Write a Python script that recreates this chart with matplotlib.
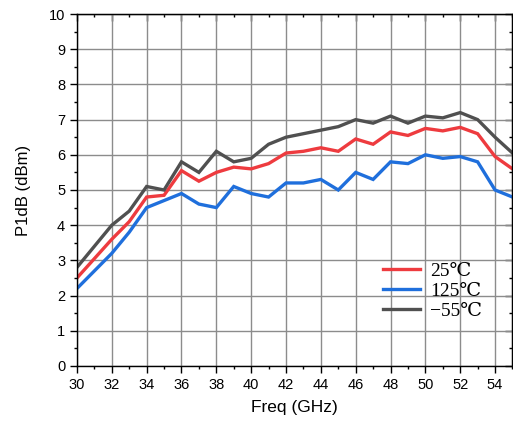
import matplotlib.pyplot as plt
from matplotlib.ticker import MultipleLocator

# ----------------------------
# DATA
# ----------------------------
freq = list(range(30, 56))
p1db_25 = [2.5, 3.05, 3.6, 4.1, 4.8, 4.85, 5.55, 5.25, 5.5, 5.65, 5.6, 5.75, 6.05,
           6.1, 6.2, 6.1, 6.45, 6.3, 6.65, 6.55, 6.75, 6.68, 6.78, 6.6, 5.95, 5.6]
p1db_125 = [2.2, 2.7, 3.2, 3.8, 4.5, 4.7, 4.9, 4.6, 4.5, 5.1, 4.9, 4.8, 5.2,
            5.2, 5.3, 5.0, 5.5, 5.3, 5.8, 5.75, 6.0, 5.9, 5.95, 5.8, 5.0, 4.8]
p1db_m55 = [2.8, 3.4, 4.0, 4.4, 5.1, 5.0, 5.8, 5.5, 6.1, 5.8, 5.9, 6.3, 6.5,
            6.6, 6.7, 6.8, 7.0, 6.9, 7.1, 6.9, 7.1, 7.05, 7.2, 7.0, 6.5, 6.05]
labels = ["25℃", "125℃", "−55℃"]
colors = ["#ee3b3f", "#1f6fdc", "#505050"]

plt.rcParams['font.family'] = ['Liberation Sans', 'DejaVu Sans']

fig = plt.figure(figsize=(5.13, 4.26), dpi=100)
ax = fig.add_axes([0.150, 0.141, 0.849, 0.826])

for ys, lab, c in zip([p1db_25, p1db_125, p1db_m55], labels, colors):
    ax.plot(freq, ys, color=c, lw=2.4, label=lab, solid_joinstyle='miter')

ax.set_xlim(30, 55)
ax.set_ylim(0, 10)
ax.xaxis.set_major_locator(MultipleLocator(2))
ax.xaxis.set_minor_locator(MultipleLocator(1))
ax.yaxis.set_major_locator(MultipleLocator(1))
ax.yaxis.set_minor_locator(MultipleLocator(0.5))
ax.grid(True, which='major', color='#8c8c8c', lw=1.0)
ax.set_axisbelow(True)

ax.tick_params(which='both', direction='out', labelsize=10.5, colors='black')
ax.tick_params(which='major', length=5, width=1)
ax.tick_params(which='minor', length=2.5, width=1)
for s in ax.spines.values():
    s.set_linewidth(1.0)

# inward ticks on top and right
top = ax.secondary_xaxis('top')
top.xaxis.set_major_locator(MultipleLocator(2))
top.xaxis.set_minor_locator(MultipleLocator(1))
top.tick_params(which='both', direction='in', labeltop=False)
top.tick_params(which='major', length=5, width=1)
top.tick_params(which='minor', length=2.5, width=1)
right = ax.secondary_yaxis('right')
right.yaxis.set_major_locator(MultipleLocator(1))
right.yaxis.set_minor_locator(MultipleLocator(0.5))
right.tick_params(which='both', direction='in', labelright=False)
right.tick_params(which='major', length=5, width=1)
right.tick_params(which='minor', length=2.5, width=1)

ax.set_xlabel("Freq (GHz)", fontsize=12.5, labelpad=6)
ax.set_ylabel("P1dB (dBm)", fontsize=12, labelpad=13)

leg = ax.legend(loc='center left', bbox_to_anchor=(0.702, 0.212), frameon=False,
                prop={'family': ['Liberation Serif', 'DejaVu Serif'], 'size': 14},
                handlelength=1.9, handletextpad=0.55, labelspacing=0.12,
                borderpad=0, borderaxespad=0)

fig.savefig("out.png", dpi=100)
